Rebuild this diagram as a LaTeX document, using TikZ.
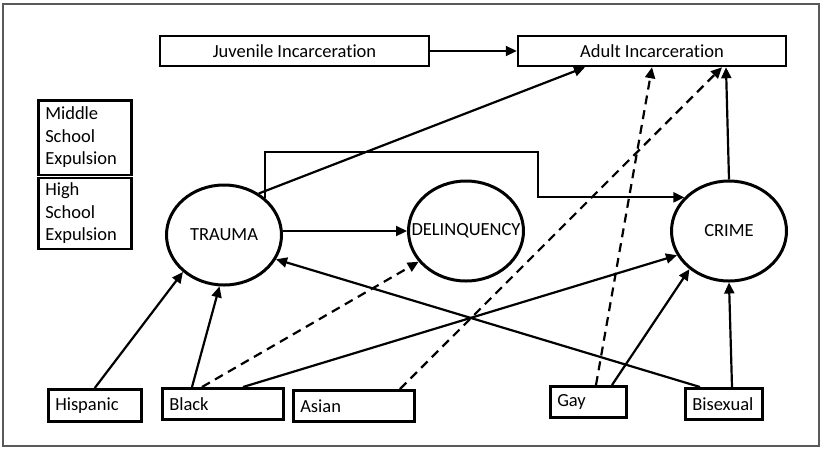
\documentclass[tikz,border=0pt]{standalone}
\usepackage{fontspec}
\setmainfont{Carlito}[Ligatures=NoCommon]
\usetikzlibrary{arrows.meta,shapes.geometric}

\begin{document}
\begin{tikzpicture}[x=1pt, y=-1pt,
  every node/.style = {font=\fontsize{18.5}{22.5}\selectfont},
  box/.style = {draw, line width=2.5pt, minimum height=30pt, inner sep=0pt},
  cat/.style = {draw, line width=2.5pt, anchor=north west,
    inner xsep=7pt, inner ysep=0pt, align=left},
  factor/.style = {draw, ellipse, line width=3pt, inner sep=0pt,
    minimum width=115pt, minimum height=100pt},
  conn/.style = {line width=2.2pt, -{Triangle[length=11pt,width=10pt]}},
  risk/.style = {conn, dash pattern=on 9pt off 6pt}]
  \useasboundingbox (0,0) rectangle (821,448);
  \draw[line width=1.3pt, black!65] (3,4) rectangle (819,446);

  \node[box, minimum width=269pt] (juv) at (294.5,51) {Juvenile Incarceration};
  \node[box, minimum width=268pt] (adult) at (652,51) {Adult Incarceration};
  \node[cat, text width=79pt, minimum height=74.5pt] (mid) at (37,99)
    {Middle\\School\\Expulsion};
  \node[cat, text width=79pt, minimum height=71pt] (high) at (37,176.5)
    {High\\School\\Expulsion};

  \node[factor, label=center:TRAUMA] (trauma) at (224,235) {};
  \node[factor, label=center:DELINQUENCY] (delinq) at (466,231) {};
  \node[factor, label=center:CRIME] (crime) at (729,231) {};

  \node[cat, text width=79pt, minimum height=32pt] (hisp) at (47,388) {Hispanic};
  \node[cat, text width=107pt, minimum height=31pt] (black) at (161,387) {Black};
  \node[cat, text width=107pt, minimum height=31pt] (asian) at (292,389) {Asian};
  \node[cat, text width=62pt, minimum height=31pt] (gay) at (549,385) {Gay};
  \node[cat, text width=63pt, minimum height=31pt] (bisex) at (684,387) {Bisexual};

  \coordinate (elbow) at (538,152);

  \draw[conn] (juv) -- (adult);
  \draw[conn] (trauma.50) -- ([xshift=-67pt]adult.south);
  \draw[conn] (trauma.42) |- (elbow) |- (crime.143);
  \draw[conn] (trauma.east |- delinq.west) -- (delinq.west);
  \draw[conn] (crime.north) -- ([xshift=74pt]adult.south);
  \draw[conn] (hisp.north) -- (trauma.222);
  \draw[conn] ([xshift=31pt]black.north west) -- (trauma.265);
  \draw[risk] ([xshift=41pt]black.north west) -- (delinq.213);
  \draw[conn] ([xshift=82pt]black.north west) -- (crime.205);
  \draw[risk] ([xshift=108pt]asian.north west) -- ([xshift=70pt]adult.south);
  \draw[risk] ([xshift=47pt]gay.north west) -- (adult.south);
  \draw[conn] ([xshift=63pt]gay.north west) -- (crime.224);
  \draw[conn] ([xshift=16pt]bisex.north west) -- (trauma.335);
  \draw[conn] ([xshift=48pt]bisex.north west) -- (crime.south);
\end{tikzpicture}
\end{document}
